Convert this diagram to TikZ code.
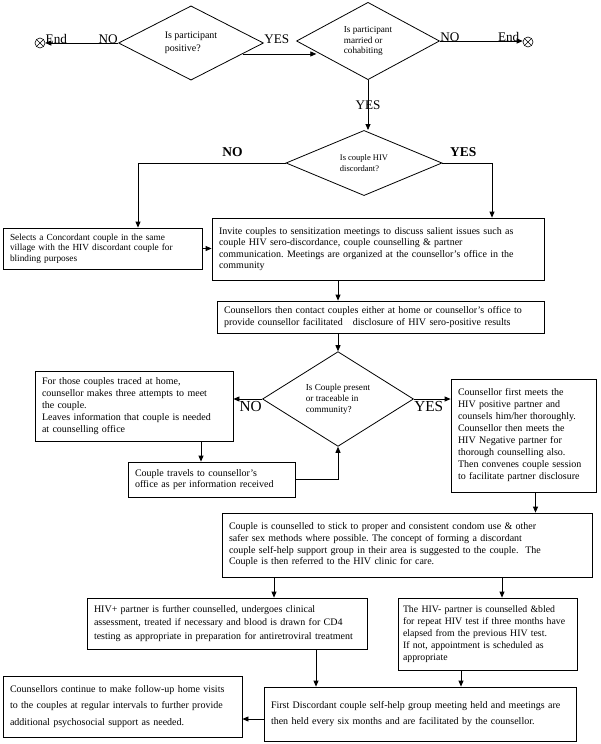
\documentclass[tikz,border=0pt]{standalone}
\usepackage{fontspec}
\setmainfont{Liberation Serif}
\frenchspacing
\usetikzlibrary{shapes.geometric,arrows.meta}
\begin{document}
\begin{tikzpicture}[x=1pt, y=-1pt, line width=0.8pt, >={Triangle[length=6pt,width=5pt]},
  box/.style={draw, rectangle, align=left, inner xsep=7pt, inner ysep=2pt, font=\fontsize{10}{11.8}\selectfont},
  ask/.style={draw, diamond, align=left, inner sep=0pt},
  lbl/.style={inner sep=0pt, font=\fontsize{13.2}{14}\selectfont},
  blbl/.style={inner sep=0pt, font=\fontsize{13.5}{14}\selectfont\bfseries},
  endmark/.style={draw, circle, minimum size=10pt, inner sep=0pt, line width=0.6pt,
    path picture={\draw (path picture bounding box.south west) -- (path picture bounding box.north east)
      (path picture bounding box.north west) -- (path picture bounding box.south east);}}]
\useasboundingbox (0,0) rectangle (600,744);
\node[ask, minimum width=145pt, minimum height=55pt, font=\fontsize{10}{13}\selectfont] (D_1) at (191,43) {Is participant\\positive?};
\node[endmark] (E_1) at (40,43) {};
\draw[->] (D_1.west) -- (E_1.east) node[pos=0, lbl, anchor=base east] {NO} node[pos=1, lbl, anchor=base west] {End};
\node[ask, minimum width=143pt, minimum height=73pt, font=\fontsize{9.2}{10.5}\selectfont] (D_2) at (368,41) {Is participant\\married or\\cohabiting};
\draw[->] (D_1.-12) -- (D_1.-12 -| D_2.192);
\node[lbl, anchor=base west] (T_1) at (D_1.east) {YES};
\node[endmark] (E_2) at (528,42) {};
\draw[->] (D_2.east) -- (D_2.east -| E_2.west) node[pos=0, lbl, anchor=base west] {NO} node[pos=1, lbl, anchor=base east, xshift=-3pt] {End};
\node[ask, minimum width=156pt, minimum height=64pt, font=\fontsize{8.5}{11}\selectfont] (D_3) at (364,163) {Is couple HIV\\discordant?};
\draw[->] (D_2.south) -- (D_2.south |- D_3.north) node[midway, lbl] {YES};
\node[box, text width=185pt, minimum height=41pt, font=\fontsize{9.3}{10.5}\selectfont] (B_sel) at (102.5,248.5) {Selects a Concordant couple in the same\\village with the HIV discordant couple for\\blinding purposes};
\node[box, text width=318pt, minimum height=62pt, font=\fontsize{10}{11.3}\selectfont] (B_inv) at (378,249) {Invite couples to sensitization meetings to discuss salient issues such as\\couple HIV sero-discordance, couple counselling \& partner\\communication. Meetings are organized at the counsellor’s office in the\\community};
\draw[->] (D_3.west) -| ([xshift=35.5pt]B_sel.north) node[pos=0.18, blbl, above=6pt] {NO};
\draw[->] (D_3.east) -| ([xshift=114pt]B_inv.north) node[pos=0.21, blbl, above=6pt] {YES};
\draw[->] (B_sel.east) -- (B_sel.east -| B_inv.west);
\node[box, text width=313pt, minimum height=32pt] (B_con) at (380.5,317) {Counsellors then contact couples either at home or counsellor’s office to\\provide counsellor facilitated \ \ disclosure of HIV sero-positive results};
\node[ask, minimum width=151pt, minimum height=75pt, font=\fontsize{9.2}{11}\selectfont] (D_4) at (338,399) {Is Couple present\\or traceable in\\community?};
\draw[->] (B_inv.south -| D_4.north) -- (B_con.north -| D_4.north);
\draw[->] (B_con.south -| D_4.north) -- (D_4.north);
\node[box, text width=184pt, minimum height=70pt, font=\fontsize{10}{12}\selectfont] (B_home) at (134,406) {For those couples traced at home,\\counsellor makes three attempts to meet\\the couple.\\Leaves information that couple is needed\\at counselling office};
\draw[->] (D_4.west) -- (D_4.west -| B_home.east) node[pos=0, lbl, font=\fontsize{15.3}{16}\selectfont, anchor=north east, yshift=-2pt] {NO};
\node[box, text width=153pt, minimum height=35pt] (B_trav) at (211.5,479.5) {Couple travels to counsellor’s\\office as per information received};
\draw[->] ([xshift=67pt]B_home.south) -- ([xshift=67pt]B_home.south |- B_trav.north);
\draw[->] (B_trav.east) -| (D_4.south);
\node[box, text width=131pt, minimum height=113pt, font=\fontsize{10}{12}\selectfont] (B_meet) at (523.5,435.5) {Counsellor first meets the\\HIV positive partner and\\counsels him/her thoroughly.\\Counsellor then meets the\\HIV Negative partner for\\thorough counselling also.\\Then convenes couple session\\to facilitate partner disclosure};
\draw[->] (D_4.east) -- (D_4.east -| B_meet.west) node[pos=0, lbl, font=\fontsize{15.3}{16}\selectfont, anchor=north west, yshift=-2pt] {YES};
\node[box, text width=356pt, minimum height=64pt, font=\fontsize{10}{11.7}\selectfont] (B_safe) at (407,545) {Couple is counselled to stick to proper and consistent condom use \& other\\safer sex methods where possible. The concept of forming a discordant\\couple self-help support group in their area is suggested to the couple. \ The\\Couple is then referred to the HIV clinic for care.};
\draw[->] ([xshift=12pt]B_meet.south) -- ([xshift=12pt]B_meet.south |- B_safe.north);
\node[box, text width=266pt, minimum height=51pt, font=\fontsize{10}{13.5}\selectfont] (B_pos) at (227,623.5) {HIV+ partner is further counselled, undergoes clinical\\assessment, treated if necessary and blood is drawn for CD4\\testing as appropriate in preparation for antiretroviral treatment};
\node[box, inner xsep=5pt, text width=169pt, minimum height=72pt, font=\fontsize{9.8}{12}\selectfont] (B_neg) at (487.5,634) {The HIV- partner is counselled \&bled\\for repeat HIV test if three months have\\elapsed from the previous HIV test.\\ If not, appointment is scheduled as\\appropriate};
\draw[->] ([xshift=47pt]B_pos.north |- B_safe.south) -- ([xshift=47pt]B_pos.north);
\draw[->] ([xshift=14.5pt]B_neg.north |- B_safe.south) -- ([xshift=14.5pt]B_neg.north);
\node[box, text width=298pt, minimum height=54pt, font=\fontsize{10}{16}\selectfont] (B_grp) at (420,714) {First Discordant couple self-help group meeting held and meetings are\\then held every six months and are facilitated by the counsellor.};
\draw[->] ([xshift=89pt]B_pos.south) -- ([xshift=89pt]B_pos.south |- B_grp.north);
\draw[->] ([xshift=-26.5pt]B_neg.south) -- ([xshift=-26.5pt]B_neg.south |- B_grp.north);
\node[box, text width=225pt, minimum height=61pt, font=\fontsize{10}{16.7}\selectfont] (B_fol) at (122.5,706.5) {Counsellors continue to make follow-up home visits\\to the couples at regular intervals to further provide\\additional psychosocial support as needed.};
\draw[->] ([yshift=-5pt]B_grp.west) -- ([yshift=-5pt]B_grp.west -| B_fol.east);
\end{tikzpicture}
\end{document}
